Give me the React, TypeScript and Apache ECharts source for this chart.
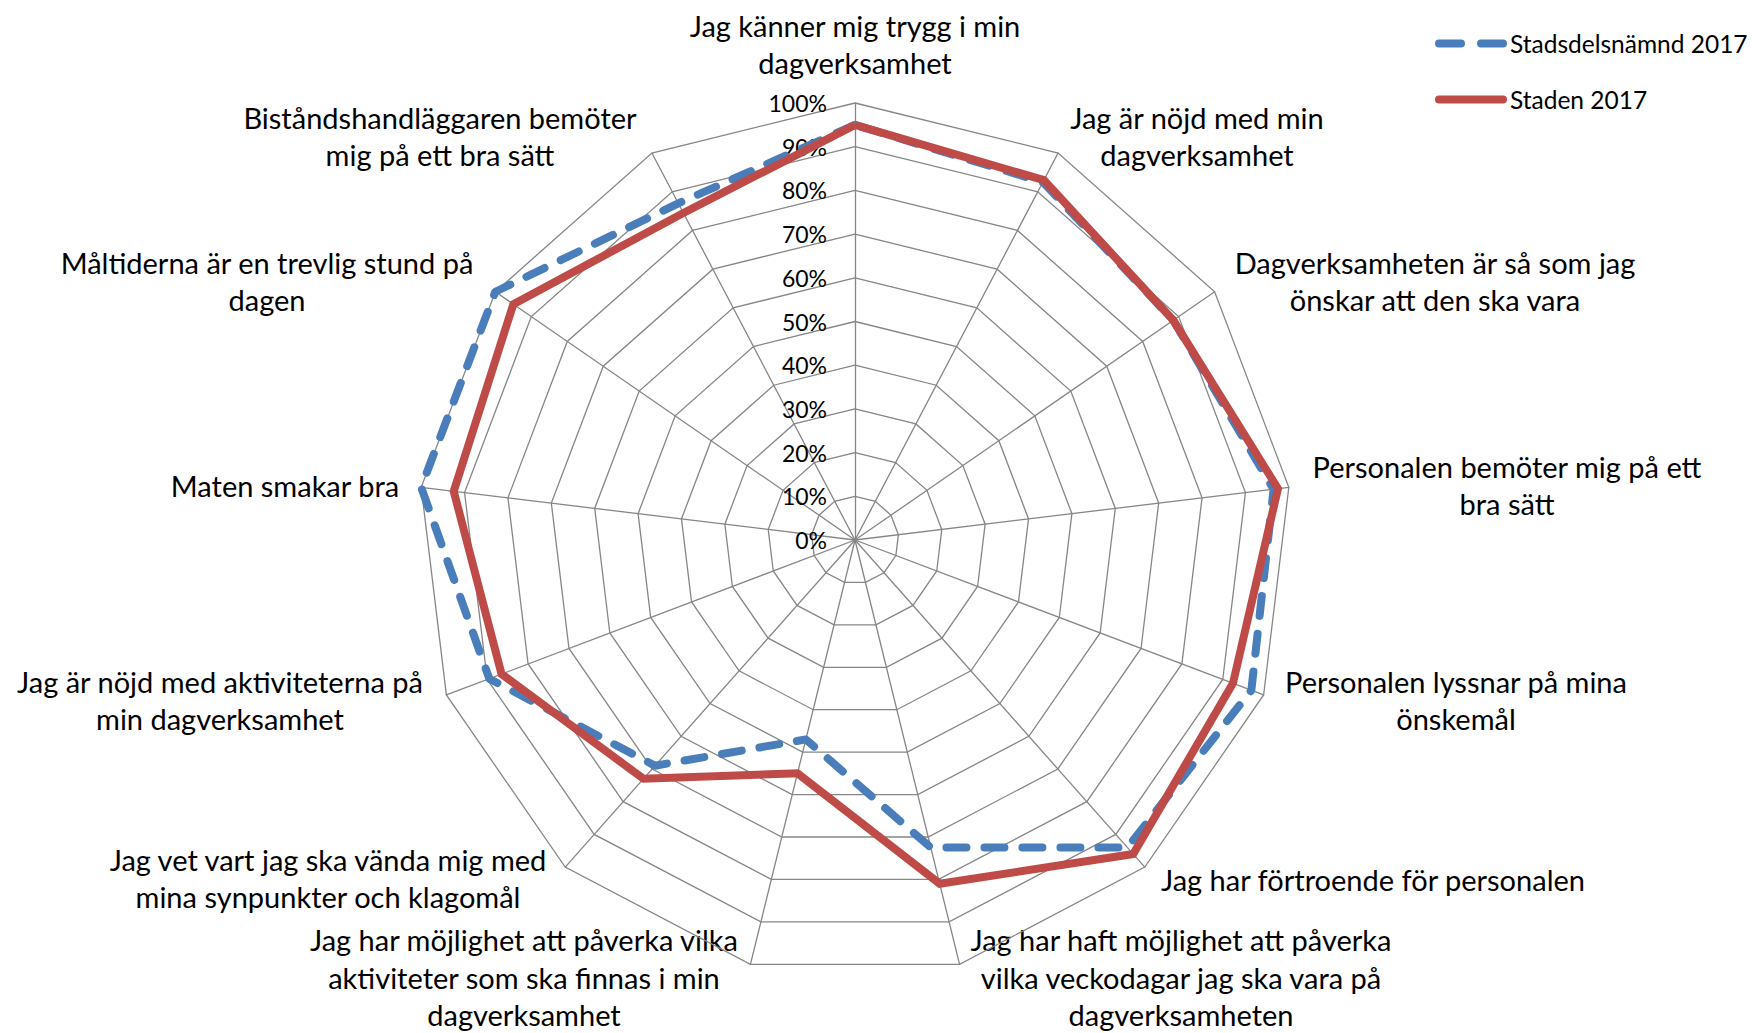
import React, { useEffect, useRef } from "react";
import * as echarts from "echarts";

// Categories in clockwise order starting at the top
const categories: string[] = [
  "Jag känner mig trygg i min\ndagverksamhet",
  "Jag är nöjd med min\ndagverksamhet",
  "Dagverksamheten är så som jag\nönskar att den ska vara",
  "Personalen bemöter mig på ett\nbra sätt",
  "Personalen lyssnar på mina\nönskemål",
  "Jag har förtroende för personalen",
  "Jag har haft möjlighet att påverka\nvilka veckodagar jag ska vara på\ndagverksamheten",
  "Jag har möjlighet att påverka vilka\naktiviteter som ska finnas i min\ndagverksamhet",
  "Jag vet vart jag ska vända mig med\nmina synpunkter och klagomål",
  "Jag är nöjd med aktiviteterna på\nmin dagverksamhet",
  "Maten smakar bra",
  "Måltiderna är en trevlig stund på\ndagen",
  "Biståndshandläggaren bemöter\nmig på ett bra sätt",
];

const stadsdelsnamnd2017: number[] = [95, 92.5, 88.5, 96.5, 97, 94, 72.5, 47, 69, 89.5, 100, 100, 87];
const staden2017: number[] = [95, 93, 88.5, 97.5, 92.5, 96, 81, 55, 73, 86.5, 92.5, 95, 84.5];

const seriesNames: string[] = ["Stadsdelsnämnd 2017", "Staden 2017"];

// label anchor positions (layout only)
const labelPos: [number, number][] = [
  [855, 44],
  [1197, 136],
  [1435, 281],
  [1507, 485],
  [1456, 700],
  [1373, 879],
  [1181, 977],
  [524, 977],
  [328, 878],
  [220, 700],
  [285, 485],
  [267, 281],
  [440, 136],
];

const FONT = "Lato, 'Noto Sans', sans-serif";

// ECharts radar runs counter-clockwise: reorder
function toCCW<T>(arr: T[]): T[] {
  return [arr[0], ...arr.slice(1).reverse()];
}

export default function App() {
  const ref = useRef<HTMLDivElement>(null);
  useEffect(() => {
    if (!ref.current) return;
    const chart = echarts.init(ref.current, undefined, { renderer: "svg" });
    const indicators = toCCW(categories).map((c, i) => ({
      name: c,
      min: 0,
      max: 100,
      ...(i === 0
        ? {
            axisLabel: {
              show: true,
              formatter: (v: number) => v + "%",
              fontSize: 23,
              fontFamily: FONT,
              color: "#000",
              margin: 28,
            },
          }
        : {}),
    }));
    const option: any = {
      animation: false,
      backgroundColor: "#fff",
      legend: {
        orient: "vertical",
        left: 1430,
        top: 26,
        itemGap: 31,
        itemWidth: 72,
        itemHeight: 9,
        textStyle: { fontSize: 24.5, fontFamily: FONT, color: "#000", padding: [0, 0, 0, -2] },
        data: [
          {
            name: seriesNames[0],
            icon: "path://M4,0H26A4,4 0 0 1 26,8H4A4,4 0 0 1 4,0Z M46,0H68A4,4 0 0 1 68,8H46A4,4 0 0 1 46,0Z",
            itemStyle: { color: "#4A7EBB" },
          },
          {
            name: seriesNames[1],
            icon: "path://M4,0H68A4,4 0 0 1 68,8H4A4,4 0 0 1 4,0Z",
            itemStyle: { color: "#BE4B48" },
          },
        ],
      },
      radar: {
        center: [855, 540],
        radius: 437,
        startAngle: 90,
        splitNumber: 10,
        shape: "polygon",
        indicator: indicators,
        axisName: { show: false },
        axisLine: { lineStyle: { color: "#868686", width: 1.3 } },
        splitLine: { lineStyle: { color: "#868686", width: 1.3 } },
        splitArea: { show: false },
        axisLabel: { show: false },
        axisTick: { show: false },
      },
      series: [
        {
          type: "radar",
          symbol: "none",
          data: [
            {
              name: seriesNames[0],
              value: toCCW(stadsdelsnamnd2017),
              lineStyle: { color: "#4A7EBB", width: 8, type: [20, 18], cap: "round", join: "round" },
              itemStyle: { color: "#4A7EBB" },
            },
            {
              name: seriesNames[1],
              value: toCCW(staden2017),
              lineStyle: { color: "#BE4B48", width: 8, type: "solid", join: "miter" },
              itemStyle: { color: "#BE4B48" },
            },
          ],
        },
      ],
      graphic: categories.map((c, i) => ({
        type: "text",
        x: labelPos[i][0],
        y: labelPos[i][1],
        silent: true,
        style: {
          text: c,
          fontSize: 29,
          fontFamily: FONT,
          fill: "#000",
          align: "center",
          verticalAlign: "middle",
          lineHeight: 37.5,
        },
      })),
    };
    chart.setOption(option);
    return () => chart.dispose();
  }, []);
  return (
    <div
      ref={ref}
      style={{ position: "fixed", left: 0, top: 0, width: 1752, height: 1033, background: "#fff" }}
    />
  );
}
